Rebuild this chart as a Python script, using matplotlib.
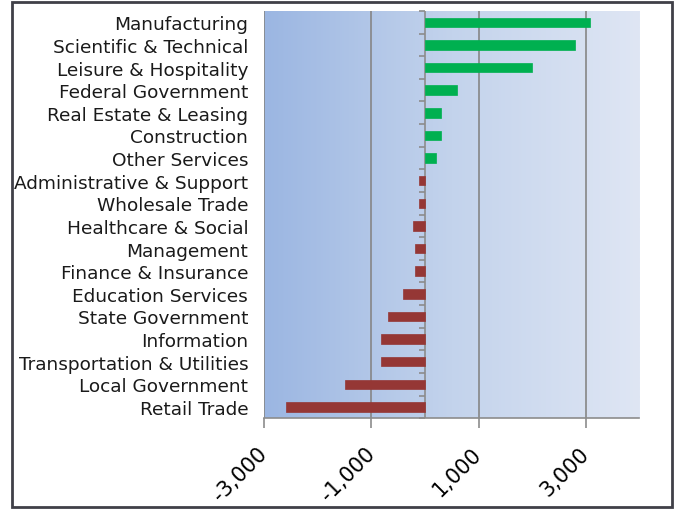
import matplotlib
matplotlib.use("Agg")
import matplotlib.pyplot as plt
import numpy as np
from matplotlib.colors import LinearSegmentedColormap
from matplotlib.ticker import FuncFormatter
from matplotlib.patches import Rectangle

categories = ["Manufacturing", "Scientific & Technical", "Leisure & Hospitality",
              "Federal Government", "Real Estate & Leasing", "Construction",
              "Other Services", "Administrative & Support", "Wholesale Trade",
              "Healthcare & Social", "Management", "Finance & Insurance",
              "Education Services", "State Government", "Information",
              "Transportation & Utilities", "Local Government", "Retail Trade"]
values = [3080, 2800, 1990, 590, 300, 300, 210, -110, -120, -220, -190, -190,
          -410, -690, -820, -820, -1500, -2600]
xticks = [-3000, -1000, 1000, 3000]

fig = plt.figure(figsize=(6.74, 5.10), dpi=100)
ax = fig.add_axes([0.392, 0.178, 0.5565, 0.7985])

n = len(categories)
y = np.arange(n)
colors = ["#00B050" if v >= 0 else "#953735" for v in values]
ax.barh(y, values, height=0.42, color=colors, edgecolor=colors, linewidth=0.5, zorder=3)

ax.set_xlim(-3000, 4000)
ax.set_ylim(n - 0.5, -0.5)

# gradient background
cmap = LinearSegmentedColormap.from_list("bg", ["#9BB6E2", "#C3D3EC", "#DFE6F4"])
grad = np.linspace(0, 1, 256).reshape(1, -1)
ax.imshow(grad, cmap=cmap, extent=[0, 1, 0, 1], transform=ax.transAxes,
          aspect="auto", zorder=0)

for spine in ["top", "right", "left"]:
    ax.spines[spine].set_visible(False)
ax.spines["bottom"].set_color("#8C8C8C")
ax.spines["bottom"].set_linewidth(1.2)

ax.set_xticks(xticks)
ax.xaxis.set_major_formatter(FuncFormatter(lambda v, p: f"{int(v):,}"))
ax.tick_params(axis="x", length=7, color="#8C8C8C", width=1.2, labelsize=15, pad=16)
for lab in ax.get_xticklabels():
    lab.set_rotation(45)
    lab.set_ha("right")
    lab.set_va("center")
    lab.set_rotation_mode("anchor")
    lab.set_color("#000000")

ax.grid(axis="x", color="#868686", linewidth=1.2, zorder=1)
ax.set_axisbelow(True)

ax.set_yticks(y)
ax.set_yticklabels(categories)
ax.tick_params(axis="y", length=0, labelsize=13.3, pad=11.5)
for lab in ax.get_yticklabels():
    lab.set_color("#1a1a1a")

# zero axis with boundary ticks
ax.axvline(0, color="#8C8C8C", linewidth=1.2, zorder=2)
sec = ax.secondary_yaxis(3 / 7)
sec.spines["right"].set_visible(False)
sec.spines["left"].set_visible(False)
sec.set_yticks(np.arange(n + 1) - 0.5)
sec.tick_params(axis="y", length=4, color="#8C8C8C", width=1.2, labelleft=False, direction="out")

# figure border
fig.patches.append(Rectangle((12 / 674, 2 / 510), 660 / 674, 505 / 510,
                             transform=fig.transFigure, fill=False,
                             edgecolor="#404048", linewidth=2))

fig.savefig("out.png", dpi=100)
